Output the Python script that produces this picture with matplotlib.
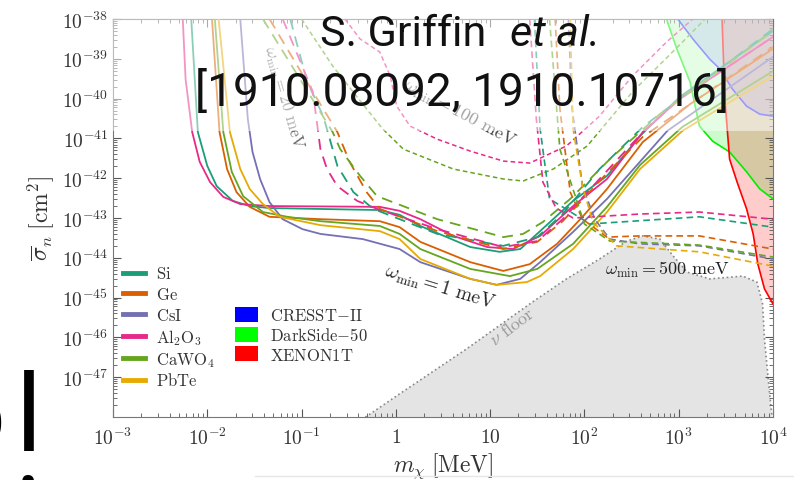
import numpy as np
import matplotlib
matplotlib.use('Agg')
import matplotlib.pyplot as plt
from matplotlib.lines import Line2D
from matplotlib.patches import Patch, Rectangle
from matplotlib.ticker import LogLocator, NullFormatter

plt.rcParams['mathtext.fontset'] = 'cm'

# all values are log10(m_chi / MeV) and log10(sigma_n / cm^2)

# omega_min = 1 meV (solid)
m_si = [-2.17, -2.10, -2.00, -1.90, -1.73, -1.55, -1.34, -0.17, 0.04, 0.26, 0.79, 1.10, 1.32, 1.53, 1.88, 2.24, 2.59, 3.01, 4.0]
s_si = [-38.0, -40.84, -41.69, -42.20, -42.57, -42.70, -42.75, -42.80, -42.92, -43.20, -43.73, -43.85, -43.78, -43.33, -42.57, -41.94, -40.94, -39.96, -38.30]
m_ge = [-1.95, -1.87, -1.79, -1.69, -1.55, -1.34, -0.80, -0.17, 0.04, 0.26, 0.79, 1.14, 1.42, 1.71, 1.98, 2.24, 2.62, 3.12, 4.0]
s_ge = [-38.0, -40.84, -41.77, -42.35, -42.72, -42.97, -43.03, -43.08, -43.23, -43.60, -44.11, -44.33, -44.16, -43.65, -42.97, -42.27, -41.09, -40.14, -38.75]
m_cs = [-1.65, -1.57, -1.52, -1.44, -1.34, -1.20, -0.99, -0.80, -0.35, 0.04, 0.26, 0.79, 1.07, 1.32, 1.53, 1.88, 2.24, 2.88, 4.0]
s_cs = [-38.0, -40.51, -41.34, -42.02, -42.60, -43.03, -43.28, -43.40, -43.53, -43.78, -44.11, -44.53, -44.68, -44.53, -44.11, -43.35, -42.52, -40.81, -38.95]
m_al = [-2.26, -2.23, -2.16, -2.08, -1.97, -1.83, -1.65, -1.34, -0.17, 0.04, 0.26, 0.61, 0.97, 1.24, 1.53, 1.88, 2.24, 2.62, 3.01, 4.0]
s_al = [-38.0, -39.51, -40.84, -41.59, -42.10, -42.47, -42.65, -42.70, -42.72, -42.82, -43.03, -43.45, -43.73, -43.78, -43.45, -42.70, -42.02, -40.84, -40.01, -38.45]
m_ca = [-1.92, -1.83, -1.74, -1.62, -1.41, -1.15, -0.80, -0.17, 0.04, 0.26, 0.79, 1.21, 1.50, 1.88, 2.24, 2.59, 3.04, 4.0]
s_ca = [-38.0, -40.84, -41.84, -42.45, -42.85, -42.97, -43.08, -43.20, -43.40, -43.78, -44.28, -44.46, -44.28, -43.65, -42.72, -41.67, -40.71, -39.31]
m_pb = [-1.88, -1.76, -1.65, -1.55, -1.41, -1.23, -0.80, -0.17, 0.04, 0.26, 0.79, 1.07, 1.39, 1.53, 1.88, 2.24, 2.59, 3.04, 4.0]
s_pb = [-38.0, -40.84, -41.77, -42.27, -42.65, -42.97, -43.18, -43.33, -43.53, -44.03, -44.53, -44.68, -44.61, -44.46, -43.78, -42.85, -41.77, -40.81, -39.43]

# omega_min = 20 meV (long dashes)
m_si_20 = [-1.12, -0.94, -0.77, -0.62, -0.45, -0.24, 0.44, 1.14, 1.50, 1.77, 2.16, 2.62, 4.0]
s_si_20 = [-38.0, -39.58, -40.44, -41.69, -42.35, -42.77, -43.40, -43.70, -43.48, -42.90, -41.77, -40.71, -38.25]
m_ge_20 = [-1.34, -0.88, -0.62, -0.49, -0.31, -0.17, 0.44, 1.14, 1.50, 1.77, 2.16, 2.62, 4.0]
s_ge_20 = [-38.0, -39.83, -40.84, -41.59, -42.35, -42.77, -43.33, -43.78, -43.60, -43.08, -42.07, -40.96, -38.70]
m_al_20 = [-1.20, -0.88, -0.80, -0.73, -0.62, -0.41, -0.20, 0.44, 1.14, 1.50, 1.77, 2.16, 2.62, 3.01, 4.0]
s_al_20 = [-38.0, -39.83, -41.27, -41.77, -42.20, -42.57, -42.77, -43.28, -43.73, -43.58, -43.03, -42.02, -40.84, -40.01, -38.45]
m_ca_20 = [-1.41, -0.67, -0.59, -0.38, -0.20, 0.44, 1.14, 1.35, 1.56, 1.85, 2.27, 2.80, 4.0]
s_ca_20 = [-38.0, -40.84, -41.27, -41.94, -42.45, -43.03, -43.48, -43.40, -43.10, -42.52, -41.52, -40.39, -38.30]

# omega_min = 100 meV (short dashes)
m_al_100 = [-0.54, -0.38, -0.17, -0.06, 0.01, 0.15, 0.44, 0.79, 1.14, 1.42, 1.81, 2.16, 2.51, 2.87, 3.15]
s_al_100 = [-38.0, -38.50, -38.83, -39.43, -40.19, -40.69, -41.02, -41.32, -41.57, -41.62, -41.19, -40.44, -39.43, -38.58, -38.0]
m_ca_100 = [-1.0, -0.67, -0.31, -0.14, 0.08, 0.61, 1.14, 1.35, 1.67, 2.03, 2.51, 3.04, 3.28]
s_ca_100 = [-38.0, -39.18, -40.26, -40.76, -41.27, -41.77, -42.02, -42.07, -41.77, -41.19, -39.83, -38.58, -38.0]

# omega_min = 500 meV (short dashes)
m_al_500 = [1.42, 1.49, 1.56, 1.70, 1.88, 2.59, 3.22, 4.0]
s_al_500 = [-38.0, -40.51, -42.10, -42.75, -43.00, -42.90, -42.85, -43.03]
m_si_500 = [1.47, 1.53, 1.63, 2.06, 3.22, 4.0]
s_si_500 = [-38.0, -40.76, -42.52, -43.15, -42.97, -43.23]
m_ge_500 = [1.69, 1.74, 1.85, 1.98, 2.24, 2.59, 3.22, 4.0]
s_ge_500 = [-38.0, -40.26, -42.35, -43.03, -43.48, -43.45, -43.45, -43.78]
m_cs_500 = [1.83, 1.87, 1.98, 2.11, 2.27, 2.59, 3.22, 4.0]
s_cs_500 = [-38.0, -40.26, -42.20, -43.03, -43.53, -43.65, -43.70, -44.03]
m_ca_500 = [1.63, 1.74, 2.0, 2.27, 3.22, 4.0]
s_ca_500 = [-38.0, -41.27, -43.15, -43.58, -43.68, -43.98]
m_pb_500 = [1.85, 1.88, 1.98, 2.09, 2.34, 3.22, 4.0]
s_pb_500 = [-38.0, -40.76, -42.20, -43.10, -43.70, -43.85, -44.21]

# existing limits
m_cresst = [2.99, 3.15, 3.33, 3.44, 3.57, 3.72, 3.86, 4.0]
s_cresst = [-38.0, -38.50, -39.01, -39.26, -39.76, -40.19, -40.39, -40.44]
m_ds50 = [2.87, 2.98, 3.12, 3.22, 3.36, 3.54, 3.72, 3.86, 4.0]
s_ds50 = [-38.0, -38.75, -39.58, -40.69, -41.07, -41.34, -41.84, -42.27, -42.52]
m_xenon = [3.46, 3.49, 3.54, 3.62, 3.72, 3.79, 3.84, 3.91, 4.0]
s_xenon = [-38.0, -40.01, -41.52, -42.10, -42.77, -43.40, -44.16, -44.78, -45.16]

# neutrino floor
m_floor = [-0.40, 0.04, 0.75, 1.45, 1.81, 2.16, 2.45, 2.62, 2.80, 2.94, 3.09, 3.33, 3.68, 3.83, 3.89, 3.91, 3.95, 3.99]
s_floor = [-48.13, -47.42, -46.29, -45.11, -44.53, -44.03, -43.58, -43.45, -43.53, -43.95, -44.36, -44.53, -44.46, -44.61, -45.16, -46.04, -47.05, -48.0]

materials = ['Si', 'Ge', 'CsI', r'Al_2O_3', r'CaWO_4', 'PbTe']
colors = ['#1b9e77', '#d95f02', '#7570b3', '#e7298a', '#66a61e', '#e6ab02']
limits = [r'$\mathrm{CRESST{-}II}$', r'$\mathrm{DarkSide{-}50}$', r'$\mathrm{XENON1T}$']

xticks = [1e-3, 1e-2, 1e-1, 1, 10, 1e2, 1e3, 1e4]
xticklabels = [r'$10^{-3}$', r'$10^{-2}$', r'$10^{-1}$', r'$1$', r'$10$', r'$10^{2}$', r'$10^{3}$', r'$10^{4}$']
yexp = list(range(-47, -37))


def p(a):
    return 10 ** np.array(a)


fig = plt.figure(figsize=(7.94, 4.81), dpi=100)
ax = fig.add_axes([0.1423, 0.131, 0.8312, 0.8274])

# neutrino floor
ax.fill(p(m_floor), p(s_floor), color='#e4e4e4', zorder=1, lw=0)
ax.plot(p(m_floor), p(s_floor), ':', color='#888888', lw=1.2, zorder=1)

# experimental regions
for mm, ss, c in [(m_ds50, s_ds50, '#00ee00'), (m_cresst, s_cresst, '#3333ff'), (m_xenon, s_xenon, '#ff0000')]:
    ax.fill(np.append(p(mm), 1e4), np.append(p(ss), 1e-38), color=c, alpha=0.2, lw=0, zorder=1)
    ax.plot(p(mm), p(ss), color=c, lw=1.2, zorder=2)

solid = [(m_si, s_si), (m_ge, s_ge), (m_cs, s_cs), (m_al, s_al), (m_ca, s_ca), (m_pb, s_pb)]
for (mm, ss), c in zip(solid, colors):
    ax.plot(p(mm), p(ss), color=c, lw=1.3, zorder=3)

dashed = [(m_si_20, s_si_20, colors[0]), (m_ge_20, s_ge_20, colors[1]),
          (m_al_20, s_al_20, colors[3]), (m_ca_20, s_ca_20, colors[4])]
for mm, ss, c in dashed:
    ax.plot(p(mm), p(ss), color=c, lw=1.3, dashes=(6, 4), zorder=3)

for mm, ss, c in [(m_al_100, s_al_100, colors[3]), (m_ca_100, s_ca_100, colors[4])]:
    ax.plot(p(mm), p(ss), color=c, lw=1.1, dashes=(3, 2), zorder=3)

short = [(m_si_500, s_si_500, colors[0]), (m_ge_500, s_ge_500, colors[1]),
         (m_cs_500, s_cs_500, colors[2]), (m_al_500, s_al_500, colors[3]),
         (m_ca_500, s_ca_500, colors[4]), (m_pb_500, s_pb_500, colors[5])]
for mm, ss, c in short:
    ax.plot(p(mm), p(ss), color=c, lw=1.2, dashes=(4, 2.5), zorder=3)

ax.set_xscale('log')
ax.set_yscale('log')
ax.set_xlim(1e-3, 1e4)
ax.set_ylim(1e-48, 1e-38)

ax.set_xticks(xticks)
ax.set_xticklabels(xticklabels)
ax.set_yticks([10.0 ** e for e in yexp])
ax.set_yticklabels([r'$10^{%d}$' % e for e in yexp])
ax.xaxis.set_minor_locator(LogLocator(base=10, subs=np.arange(2, 10), numticks=20))
ax.yaxis.set_minor_locator(LogLocator(base=10, subs=np.arange(2, 10), numticks=20))
ax.xaxis.set_minor_formatter(NullFormatter())
ax.yaxis.set_minor_formatter(NullFormatter())
ax.tick_params(which='both', direction='in', top=True, right=True, color='#555555', labelcolor='#333333')
ax.tick_params(which='major', length=6, labelsize=14)
ax.tick_params(which='minor', length=3)
ax.tick_params(axis='x', pad=7)
for sp in ax.spines.values():
    sp.set_color('#777777')

ax.set_xlabel(r'$m_\chi\;[\mathrm{MeV}]$', fontsize=17, color='#333333', labelpad=2)
ax.set_ylabel(r'$\overline{\sigma}_n\;[\mathrm{cm}^2]$', fontsize=17, color='#333333', labelpad=4)

# annotations
ax.text(0.259, 0.804, r'$\omega_{\mathrm{min}} = 20\ \mathrm{meV}$', transform=ax.transAxes, rotation=-74,
        ha='center', va='center', fontsize=12, color='#666666', zorder=4)
ax.text(0.525, 0.765, r'$\omega_{\mathrm{min}} = 100\ \mathrm{meV}$', transform=ax.transAxes, rotation=-28,
        ha='center', va='center', fontsize=13, color='#444444', zorder=4)
ax.text(0.495, 0.329, r'$\omega_{\mathrm{min}} = 1\ \mathrm{meV}$', transform=ax.transAxes, rotation=-17,
        ha='center', va='center', fontsize=14, color='#222222', zorder=6)
ax.text(0.605, 0.229, r'$\nu\ \mathrm{floor}$', transform=ax.transAxes, rotation=37,
        ha='center', va='center', fontsize=13, color='#999999', zorder=6)
ax.text(0.839, 0.372, r'$\omega_{\mathrm{min}} = 500\ \mathrm{meV}$', transform=ax.transAxes,
        ha='center', va='center', fontsize=13, color='#222222', zorder=6)

# faded band at the top of the plot (slide overlay)
ax.add_patch(Rectangle((0, 0.719), 1, 0.281, transform=ax.transAxes, facecolor='white',
                       alpha=0.5, lw=0, zorder=5))

h1 = [Line2D([], [], color=c, lw=3.5) for c in colors]
leg1 = ax.legend(h1, [r'$\mathrm{%s}$' % s for s in materials], loc='upper left',
                 bbox_to_anchor=(0.005, 0.40), frameon=False, fontsize=12, handlelength=1.3,
                 handletextpad=0.7, labelspacing=0.17, borderaxespad=0)
for t in leg1.get_texts():
    t.set_color('#333333')
ax.add_artist(leg1)
h2 = [Patch(facecolor=c, edgecolor='none') for c in ['#0000ff', '#00ff00', '#ff0000']]
leg2 = ax.legend(h2, limits, loc='upper left', bbox_to_anchor=(0.175, 0.295), frameon=False, fontsize=12,
                 handlelength=1.4, handleheight=1.0, handletextpad=0.7, labelspacing=0.1, borderaxespad=0)
for t in leg2.get_texts():
    t.set_color('#333333')
leg1.set_zorder(7)
leg2.set_zorder(7)

# slide text on top of the chart
fig.text(320 / 794, 1 - 46 / 481, 'S. Griffin', family='Roboto', fontsize=31,
         ha='left', va='baseline', color='#111111')
fig.text(510 / 794, 1 - 46 / 481, 'et al.', family='Roboto', style='italic', fontsize=31,
         ha='left', va='baseline', color='#111111')
fig.text(462 / 794, 1 - 106 / 481, '[1910.08092, 1910.10716]', family='Roboto', fontsize=33,
         ha='center', va='baseline', color='#111111')
fig.text(42 / 794, 1 - 451 / 481, 'l', family='Roboto', fontsize=77, ha='right', va='baseline', color='black')
fig.text(5 / 794, 1 - 451 / 481, 'o', family='Roboto', fontsize=77, ha='right', va='baseline', color='black')
fig.text(42 / 794, 1 - 553 / 481, 'ti', family='Roboto', fontsize=77, ha='right', va='baseline', color='black')
fig.add_artist(Line2D([255 / 794, 1], [1 - 477 / 481, 1 - 477 / 481], color='#e6e6e6', lw=1))

fig.savefig('out.png', dpi=100)
